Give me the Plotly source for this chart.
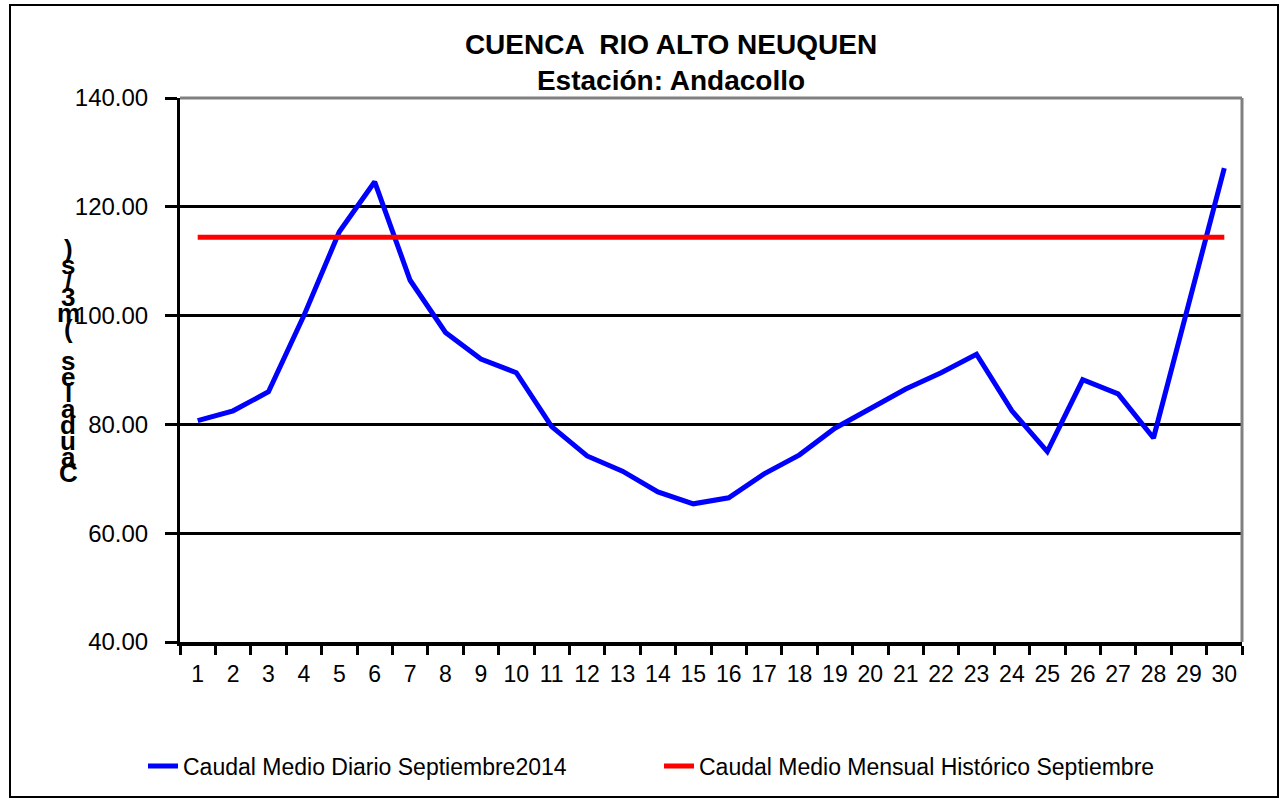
import plotly.graph_objects as go

# Datos
dias = [str(d) for d in range(1, 31)]
caudal_diario = [80.7, 82.5, 86.0, 100.0, 115.4, 124.6, 106.5, 96.9, 92.0, 89.5,
                 79.6, 74.2, 71.4, 67.6, 65.4, 66.5, 70.9, 74.4, 79.3, 83.0,
                 86.5, 89.5, 92.9, 82.5, 75.0, 88.2, 85.6, 77.5, 102.3, 127.1]
caudal_historico = [114.4] * 30
y_ticks = [40, 60, 80, 100, 120, 140]
titulo_y = "Caudales (m3/s)"

FONT = "Arial, Liberation Sans, sans-serif"
W, H = 1284, 800
L, R, T, B = 180, 42, 98, 158          # márgenes del área de trazado (px)
PW, PH = W - L - R, H - T - B


def px_x(x):   # píxel -> coordenada paper
    return (x - L) / PW


def px_y(y):
    return (H - B - y) / PH


fig = go.Figure()
fig.add_trace(go.Scatter(x=dias, y=caudal_diario, mode="lines",
                         name="Caudal Medio Diario Septiembre2014",
                         line=dict(color="#0000FF", width=5)))
fig.add_trace(go.Scatter(x=dias, y=caudal_historico, mode="lines",
                         name="Caudal Medio Mensual Histórico Septiembre",
                         line=dict(color="#FF0000", width=5)))

# eje de categorías: cada día ocupa una celda, marcas en los bordes
fig.update_xaxes(type="category", range=[-0.5, len(dias) - 0.5],
                 tickson="boundaries", ticks="outside",
                 ticklen=9, tickwidth=3, tickcolor="black", ticklabelstandoff=8,
                 tickangle=0,
                 showline=True, linecolor="black", linewidth=4,
                 showgrid=False, tickfont=dict(family=FONT, size=23, color="black"))
fig.update_yaxes(range=[40, 140], tickvals=y_ticks, tickformat=".2f",
                 ticks="outside", ticklen=12, tickwidth=3, tickcolor="black",
                 ticklabelstandoff=12,
                 showline=True, linecolor="black", linewidth=3,
                 showgrid=True, gridcolor="black", gridwidth=3, zeroline=False,
                 tickfont=dict(family=FONT, size=24, color="black"))

# marco gris superior y derecho del área de trazado
shapes = [
    dict(type="line", xref="paper", yref="paper", x0=0, x1=1, y0=1, y1=1,
         line=dict(color="#808080", width=3), layer="above"),
    dict(type="line", xref="paper", yref="paper", x0=1, x1=1, y0=0, y1=1,
         line=dict(color="#808080", width=3), layer="above"),
    # borde exterior del gráfico
    dict(type="rect", xref="paper", yref="paper",
         x0=px_x(10), x1=px_x(1278), y0=px_y(797), y1=px_y(5),
         line=dict(color="black", width=2)),
]

# título del eje Y con caracteres apilados (como en el original)
annotations = []
for i, ch in enumerate(reversed(titulo_y)):
    annotations.append(dict(text=ch, xref="paper", yref="paper",
                            x=px_x(68), y=px_y(249 + i * 16),
                            xanchor="center", yanchor="middle", showarrow=False,
                            font=dict(family=FONT, size=26, color="black",
                                      weight="bold")))

fig.update_layout(
    width=W, height=H,
    margin=dict(l=L, r=R, t=T, b=B),
    paper_bgcolor="white", plot_bgcolor="white",
    title=dict(text="CUENCA  RIO ALTO NEUQUEN<br>Estación: Andacollo",
               x=671 / W, xanchor="center", y=1 - 54 / H, yanchor="middle",
               font=dict(family=FONT, size=28, color="black", weight="bold")),
    legend=dict(orientation="h", x=px_x(143), xanchor="left",
                y=px_y(766), yanchor="middle", entrywidth=471,
                font=dict(family=FONT, size=23, color="black")),
    shapes=shapes, annotations=annotations,
)

fig.write_html("out.html", config={"displayModeBar": False},
               post_script="document.body.style.margin = '0';")
